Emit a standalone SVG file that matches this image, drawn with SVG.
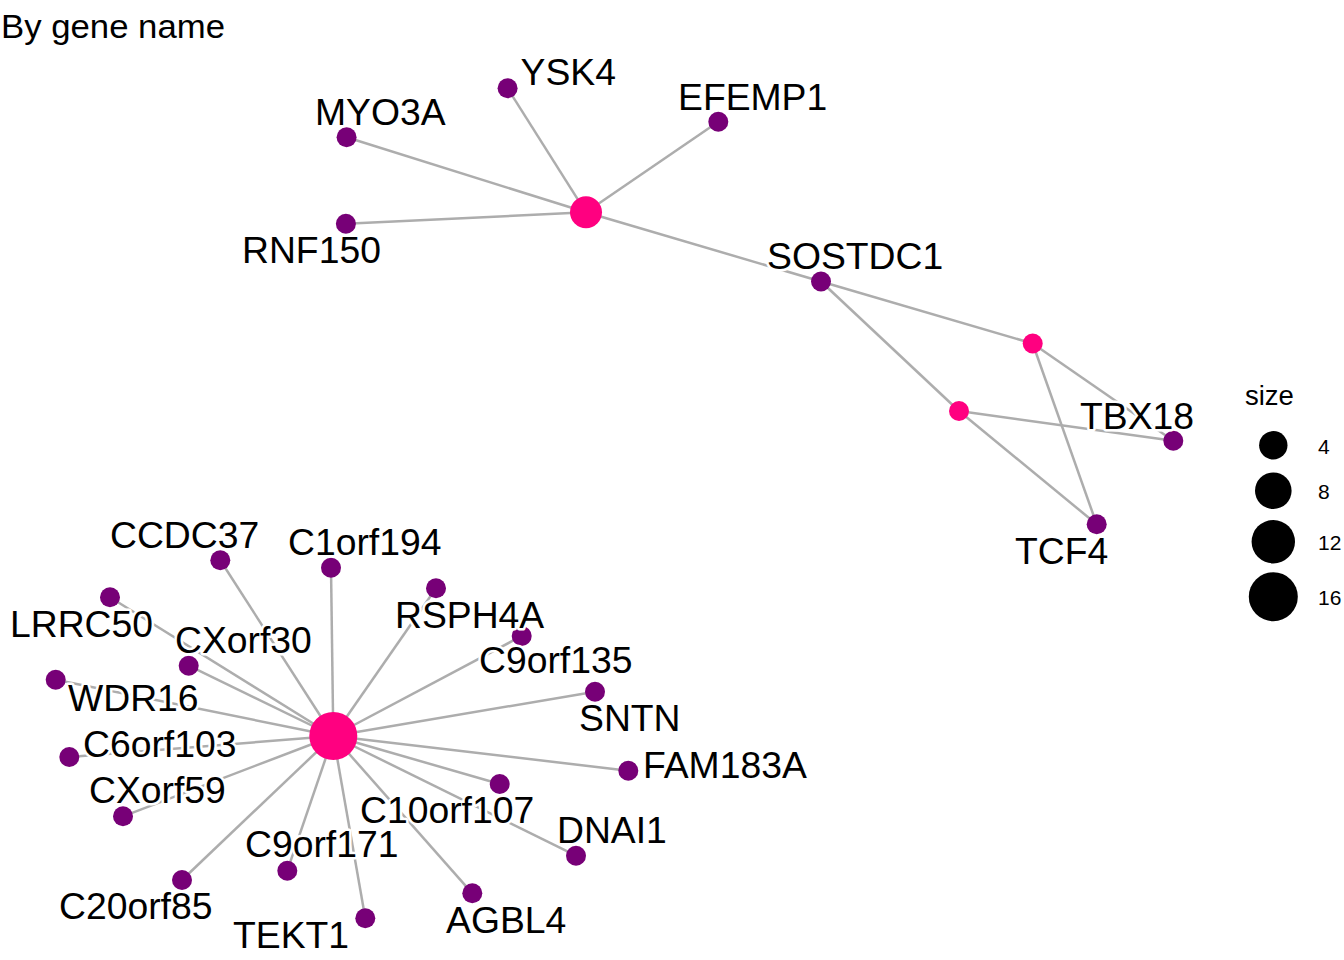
<svg xmlns="http://www.w3.org/2000/svg" width="1344" height="960" viewBox="0 0 1344 960">
<style>
.e{stroke:#ADADAD;stroke-width:2.5;fill:none}
.g{fill:#770077}
.c{fill:#FF0080}
.l{font-family:"Liberation Sans",Arial,sans-serif;font-size:37.3px;fill:#000;stroke:#fff;stroke-width:5;stroke-linejoin:round;paint-order:stroke}
.t{font-family:"Liberation Sans",Arial,sans-serif;fill:#000}
</style>
<rect width="1344" height="960" fill="#fff"/>
<text class="t" x="1" y="38" font-size="34" textLength="224" lengthAdjust="spacingAndGlyphs">By gene name</text>
<g id="edges">
<line class="e" x1="586" y1="212.3" x2="507.6" y2="88.3"/>
<line class="e" x1="586" y1="212.3" x2="718.3" y2="121.7"/>
<line class="e" x1="586" y1="212.3" x2="346.6" y2="137.3"/>
<line class="e" x1="586" y1="212.3" x2="345.9" y2="223.7"/>
<line class="e" x1="586" y1="212.3" x2="821" y2="281.5"/>
<line class="e" x1="821" y1="281.5" x2="1032.7" y2="343.5"/>
<line class="e" x1="821" y1="281.5" x2="959" y2="411"/>
<line class="e" x1="1032.7" y1="343.5" x2="1173.3" y2="440.7"/>
<line class="e" x1="1032.7" y1="343.5" x2="1096.7" y2="524.3"/>
<line class="e" x1="959" y1="411" x2="1173.3" y2="440.7"/>
<line class="e" x1="959" y1="411" x2="1096.7" y2="524.3"/>
<line class="e" x1="333.3" y1="736" x2="220.3" y2="560.3"/>
<line class="e" x1="333.3" y1="736" x2="331" y2="567.7"/>
<line class="e" x1="333.3" y1="736" x2="436" y2="588.3"/>
<line class="e" x1="333.3" y1="736" x2="110" y2="597.3"/>
<line class="e" x1="333.3" y1="736" x2="188.7" y2="665.7"/>
<line class="e" x1="333.3" y1="736" x2="55.7" y2="679.7"/>
<line class="e" x1="333.3" y1="736" x2="69.3" y2="757"/>
<line class="e" x1="333.3" y1="736" x2="123" y2="816.3"/>
<line class="e" x1="333.3" y1="736" x2="182" y2="880"/>
<line class="e" x1="333.3" y1="736" x2="287.3" y2="870.7"/>
<line class="e" x1="333.3" y1="736" x2="365.3" y2="918.3"/>
<line class="e" x1="333.3" y1="736" x2="472.3" y2="893.3"/>
<line class="e" x1="333.3" y1="736" x2="576" y2="855.7"/>
<line class="e" x1="333.3" y1="736" x2="499.7" y2="784"/>
<line class="e" x1="333.3" y1="736" x2="628.3" y2="770.7"/>
<line class="e" x1="333.3" y1="736" x2="595" y2="691.7"/>
<line class="e" x1="333.3" y1="736" x2="521.7" y2="636"/>
</g>
<g id="hub1"><circle class="c" cx="586" cy="212.3" r="16"/></g>
<g id="hub2"><circle class="c" cx="1032.7" cy="343.5" r="10"/></g>
<g id="hub3"><circle class="c" cx="959" cy="411" r="10"/></g>
<g id="hub4"><circle class="c" cx="333.3" cy="736" r="24"/></g>
<g id="YSK4"><circle class="g" cx="507.6" cy="88.3" r="10"/></g>
<g id="EFEMP1"><circle class="g" cx="718.3" cy="121.7" r="10"/></g>
<g id="MYO3A"><circle class="g" cx="346.6" cy="137.3" r="10"/></g>
<g id="RNF150"><circle class="g" cx="345.9" cy="223.7" r="10"/></g>
<g id="SOSTDC1"><circle class="g" cx="821" cy="281.5" r="10"/></g>
<g id="TBX18"><circle class="g" cx="1173.3" cy="440.7" r="10"/></g>
<g id="TCF4"><circle class="g" cx="1096.7" cy="524.3" r="10"/></g>
<g id="CCDC37"><circle class="g" cx="220.3" cy="560.3" r="10"/></g>
<g id="C1orf194"><circle class="g" cx="331" cy="567.7" r="10"/></g>
<g id="RSPH4A"><circle class="g" cx="436" cy="588.3" r="10"/></g>
<g id="LRRC50"><circle class="g" cx="110" cy="597.3" r="10"/></g>
<g id="CXorf30"><circle class="g" cx="188.7" cy="665.7" r="10"/></g>
<g id="WDR16"><circle class="g" cx="55.7" cy="679.7" r="10"/></g>
<g id="C6orf103"><circle class="g" cx="69.3" cy="757" r="10"/></g>
<g id="CXorf59"><circle class="g" cx="123" cy="816.3" r="10"/></g>
<g id="C20orf85"><circle class="g" cx="182" cy="880" r="10"/></g>
<g id="C9orf171"><circle class="g" cx="287.3" cy="870.7" r="10"/></g>
<g id="TEKT1"><circle class="g" cx="365.3" cy="918.3" r="10"/></g>
<g id="AGBL4"><circle class="g" cx="472.3" cy="893.3" r="10"/></g>
<g id="DNAI1"><circle class="g" cx="576" cy="855.7" r="10"/></g>
<g id="C10orf107"><circle class="g" cx="499.7" cy="784" r="10"/></g>
<g id="FAM183A"><circle class="g" cx="628.3" cy="770.7" r="10"/></g>
<g id="SNTN"><circle class="g" cx="595" cy="691.7" r="10"/></g>
<g id="C9orf135"><circle class="g" cx="521.7" cy="636" r="10"/></g>
<g id="labels">
<text class="l" x="520.6" y="85">YSK4</text>
<text class="l" x="678" y="110">EFEMP1</text>
<text class="l" x="315" y="125">MYO3A</text>
<text class="l" x="242" y="263">RNF150</text>
<text class="l" x="767" y="269">SOSTDC1</text>
<text class="l" x="1080" y="429">TBX18</text>
<text class="l" x="1015" y="564">TCF4</text>
<text class="l" x="110" y="548">CCDC37</text>
<text class="l" x="288" y="555">C1orf194</text>
<text class="l" x="395" y="628">RSPH4A</text>
<text class="l" x="10" y="637">LRRC50</text>
<text class="l" x="175" y="653">CXorf30</text>
<text class="l" x="479" y="673">C9orf135</text>
<text class="l" x="68" y="711">WDR16</text>
<text class="l" x="579" y="731">SNTN</text>
<text class="l" x="83" y="757">C6orf103</text>
<text class="l" x="643" y="778">FAM183A</text>
<text class="l" x="89" y="803">CXorf59</text>
<text class="l" x="360" y="823">C10orf107</text>
<text class="l" x="557" y="843">DNAI1</text>
<text class="l" x="245" y="857">C9orf171</text>
<text class="l" x="59" y="919">C20orf85</text>
<text class="l" x="446" y="933">AGBL4</text>
<text class="l" x="233" y="948">TEKT1</text>
</g>
<g id="legend">
<text class="t" x="1245" y="405" font-size="27.5">size</text>
<circle cx="1273.3" cy="445.3" r="14.2" fill="#000"/>
<circle cx="1273.3" cy="490.7" r="18.3" fill="#000"/>
<circle cx="1273.3" cy="541.7" r="21.7" fill="#000"/>
<circle cx="1273.3" cy="596.7" r="24.5" fill="#000"/>
<text class="t" x="1318" y="453.5" font-size="21">4</text>
<text class="t" x="1318" y="498.5" font-size="21">8</text>
<text class="t" x="1318" y="549.5" font-size="21">12</text>
<text class="t" x="1318" y="604.5" font-size="21">16</text>
</g>
</svg>
